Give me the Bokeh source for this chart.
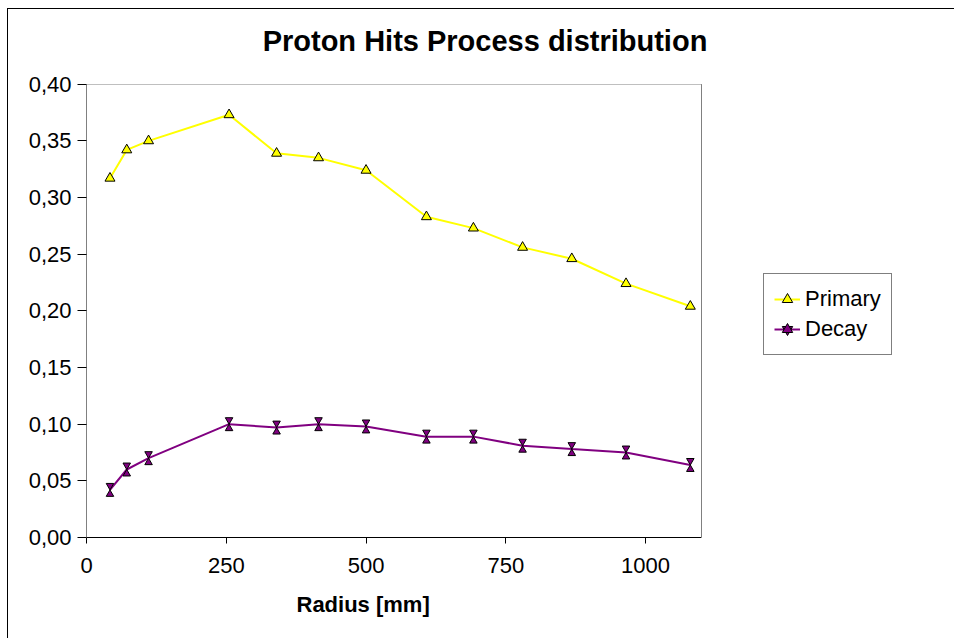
from bokeh.plotting import figure
from bokeh.models import (ColumnDataSource, Range1d, FixedTicker, CustomJSTickFormatter,
                          Legend, LegendItem, Title, BoxAnnotation, Label)
from bokeh.transform import dodge
from bokeh.embed import file_html
from bokeh.resources import INLINE

# ---- data ----
radius = [42, 72, 111, 255, 340, 415, 500, 608, 692, 780, 868, 965, 1080]
primary = [0.317, 0.342, 0.350, 0.373, 0.339, 0.335, 0.324, 0.283, 0.273, 0.256, 0.246, 0.224, 0.204]
decay = [0.042, 0.060, 0.070, 0.100, 0.097, 0.100, 0.098, 0.089, 0.089, 0.081, 0.078, 0.075, 0.064]
x_ticks = [0, 250, 500, 750, 1000]
y_ticks = [0.0, 0.05, 0.10, 0.15, 0.20, 0.25, 0.30, 0.35, 0.40]
x_axis_max = 1100
y_axis_max = 0.40
series_names = ["Primary", "Decay"]
title_text = "Proton Hits Process distribution"
x_label = "Radius [mm]"

FONT = "Liberation Sans"

# The frame spans to the right edge and the top edge of the canvas; the plot
# area proper is [0, x_axis_max] x [0, y_axis_max]; the rest holds title/legend.
px_per_x = 615.0 / x_axis_max
x_view_max = x_axis_max + 253.0 / px_per_x
px_per_y = 453.3 / y_axis_max
y_view_max = 537.0 / px_per_y

chart_border = ("linear-gradient(#000000, #000000) 7px 8px / 1px 100% no-repeat, "
                "linear-gradient(#000000, #000000) 7px 8px / 100% 1px no-repeat, #ffffff")

p = figure(width=954, height=638, output_backend="svg", toolbar_location=None, title=None,
           x_range=Range1d(0, x_view_max), y_range=Range1d(0, y_view_max),
           min_border_left=86, min_border_right=0, min_border_top=0, min_border_bottom=101,
           background_fill_color=None, border_fill_color=None,
           styles={"background": chart_border})
p.outline_line_color = None

# grid
p.xgrid.visible = False
p.ygrid.ticker = FixedTicker(ticks=y_ticks)
p.ygrid.grid_line_color = "#000000"
p.ygrid.grid_line_width = 1

# axes
for ax in p.xaxis:
    ax.ticker = FixedTicker(ticks=x_ticks)
    ax.bounds = (0, x_axis_max)
    ax.axis_line_color = "#000000"
    ax.axis_line_width = 1
    ax.major_tick_line_color = "#000000"
    ax.major_tick_out = 6
    ax.major_tick_in = 0
    ax.minor_tick_line_color = None
    ax.major_label_text_font = FONT
    ax.major_label_text_font_size = "22px"
    ax.major_label_text_color = "#000000"
    ax.major_label_standoff = 14

for ax in p.yaxis:
    ax.ticker = FixedTicker(ticks=y_ticks)
    ax.bounds = (0, y_axis_max)
    ax.formatter = CustomJSTickFormatter(code="return tick.toFixed(2).replace('.', ',');")
    ax.axis_line_color = "#808080"
    ax.axis_line_width = 1
    ax.major_tick_line_color = "#000000"
    ax.major_tick_out = 9
    ax.major_tick_in = 0
    ax.minor_tick_line_color = None
    ax.major_label_text_font = FONT
    ax.major_label_text_font_size = "22px"
    ax.major_label_text_color = "#000000"
    ax.major_label_standoff = 6

src = ColumnDataSource(dict(radius=radius, primary=primary, decay=decay))

# white plot-area background
p.add_layout(BoxAnnotation(left=0, right=x_axis_max, top=y_axis_max, bottom=0,
                           fill_color="white", fill_alpha=1.0, line_color=None,
                           level="underlay"))

l1 = p.line("radius", "primary", source=src, line_color="#FFFF00", line_width=2)
m1 = p.scatter("radius", "primary", source=src, marker="triangle", size=10,
               fill_color="#FFFF00", line_color="#000000", line_width=1)

l2 = p.line("radius", "decay", source=src, line_color="#800080", line_width=2)
off = 0.0038
m2a = p.scatter(x="radius", y=dodge("decay", off), source=src, marker="inverted_triangle",
                size=7.5, fill_color="#800080", line_color="#000000", line_width=1)
m2b = p.scatter(x="radius", y=dodge("decay", -off), source=src, marker="triangle",
                size=7.5, fill_color="#800080", line_color="#000000", line_width=1)

# blank the grid lines right of the plot area
p.add_layout(BoxAnnotation(left=x_axis_max, right=x_view_max * 2, top=y_axis_max * 1.006,
                           bottom=-1.0, fill_color="white", fill_alpha=1.0,
                           line_color=None, level="annotation"))
# grey right border of the plot area
p.segment(x0=[x_axis_max], y0=[0], x1=[x_axis_max], y1=[y_axis_max],
          line_color="#808080", line_width=1, level="overlay")

legend = Legend(items=[LegendItem(label=series_names[0], renderers=[l1, m1]),
                       LegendItem(label=series_names[1], renderers=[l2, m2a, m2b])],
                location=(677, 182), label_text_font=FONT, label_text_font_size="22px",
                label_text_color="#000000",
                glyph_width=26, glyph_height=30, label_height=30, spacing=0, padding=10,
                margin=0, label_standoff=5, border_line_color="#000000", border_line_width=1,
                background_fill_color="white")
p.add_layout(legend)

p.add_layout(Label(x=398.5, y=497, x_units="screen", y_units="screen", text=title_text,
                   text_align="center", text_baseline="alphabetic", text_font=FONT,
                   text_font_style="bold", text_font_size="29px", text_color="#000000"))

xt = Title(text=x_label, align="left", offset=210, standoff=28, text_font=FONT,
           text_font_style="bold", text_font_size="22px", text_color="#000000")
p.add_layout(xt, "below")

open("out.html", "w").write(file_html(p, INLINE))
